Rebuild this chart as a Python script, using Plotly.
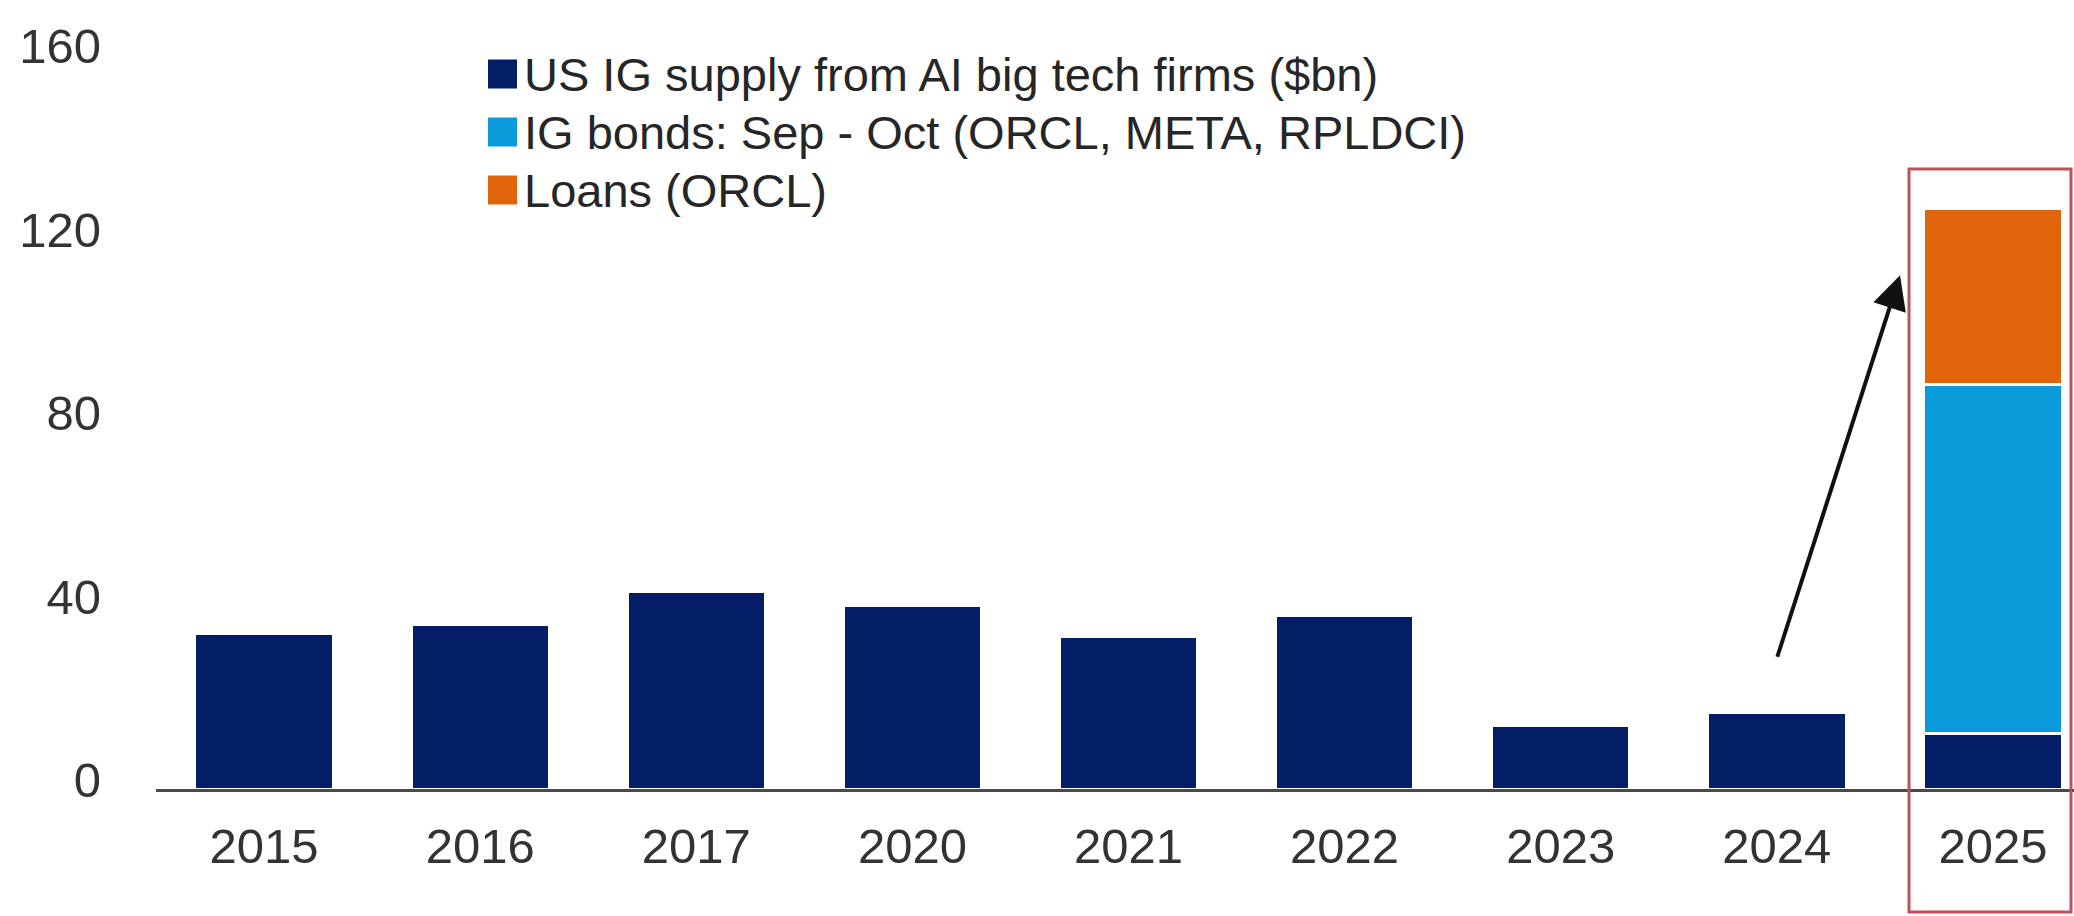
import plotly.graph_objects as go

# Annual US investment-grade supply from the AI big tech names ($bn)
years = ["2015", "2016", "2017", "2020", "2021", "2022", "2023", "2024", "2025"]
ig_supply = [33.8, 35.9, 43.0, 40.1, 33.3, 37.9, 13.8, 16.6, 12.2]
# 2025 only: Sep-Oct IG bond deals and the ORCL loan
ig_bonds_sep_oct = [None, None, None, None, None, None, None, None, 76.0]
loans_orcl = [None, None, None, None, None, None, None, None, 38.3]

series_names = [
    "US IG supply from AI big tech firms ($bn)",
    "IG bonds: Sep - Oct (ORCL, META, RPLDCI)",
    "Loans (ORCL)",
]
series_colors = ["#031d66", "#0b9ad9", "#e0640c"]
y_ticks = [0, 40, 80, 120, 160]

W, H = 2074, 916
M_L, M_R, M_T, M_B = 156, 0, 55, 127
PW, PH = W - M_L - M_R, H - M_T - M_B

FONT = "Liberation Sans Narrow, Arial Narrow, Liberation Sans, Arial, sans-serif"


def px_x(px):
    return (px - M_L) / PW


def px_y(py):
    return (H - M_B - py) / PH


fig = go.Figure()
for name, vals, col in zip(series_names, [ig_supply, ig_bonds_sep_oct, loans_orcl], series_colors):
    fig.add_trace(go.Bar(
        x=years, y=vals, name=name,
        marker=dict(color=col, line=dict(color="white", width=3)),
        showlegend=False,
    ))

# legend drawn as squares plus text, stacked top-left inside the plot
shapes = []
annotations = []
leg_left, leg_sq = 488, 29
leg_rows = [74, 132, 190]
for name, col, cy in zip(series_names, series_colors, leg_rows):
    shapes.append(dict(
        type="rect", xref="paper", yref="paper",
        x0=px_x(leg_left), x1=px_x(leg_left + leg_sq),
        y0=px_y(cy + leg_sq / 2), y1=px_y(cy - leg_sq / 2),
        fillcolor=col, line=dict(width=0),
    ))
    annotations.append(dict(
        xref="paper", yref="paper", x=px_x(leg_left + leg_sq + 5), y=px_y(cy),
        xanchor="left", yanchor="middle", text=name, showarrow=False,
        font=dict(family=FONT, size=47, color="#262626"),
    ))

# red frame around the 2025 column
shapes.append(dict(
    type="rect", xref="paper", yref="paper",
    x0=px_x(1909), x1=px_x(2071), y0=px_y(912), y1=px_y(169),
    line=dict(color="#c0505a", width=3), fillcolor="rgba(0,0,0,0)", layer="above",
))

# arrow from the 2024 column up to the 2025 stack
annotations.append(dict(
    x=7.57, y=112, xref="x", yref="y",
    ax=7.0, ay=28.5, axref="x", ayref="y",
    showarrow=True, arrowhead=2, arrowsize=1.7, arrowwidth=4, arrowcolor="#111111",
    text="",
))

fig.update_layout(
    width=W, height=H,
    margin=dict(l=M_L, r=M_R, t=M_T, b=M_B, pad=0),
    barmode="stack", bargap=0.36,
    plot_bgcolor="white", paper_bgcolor="white",
    font=dict(family=FONT, color="#333333"),
    shapes=shapes, annotations=annotations,
    xaxis=dict(
        type="category", range=[-0.5, 8.375],
        showline=True, linecolor="#4a4a4a", linewidth=3,
        showgrid=False, ticks="", ticklabelstandoff=12,
        tickfont=dict(family=FONT, size=49, color="#333333"),
    ),
    yaxis=dict(
        range=[0, 160], tickvals=y_ticks, showgrid=False, zeroline=False,
        showline=False, ticks="", ticklabelstandoff=54, ticklabelshift=-9,
        tickfont=dict(family=FONT, size=49, color="#333333"),
    ),
)

fig.write_html("out.html")
